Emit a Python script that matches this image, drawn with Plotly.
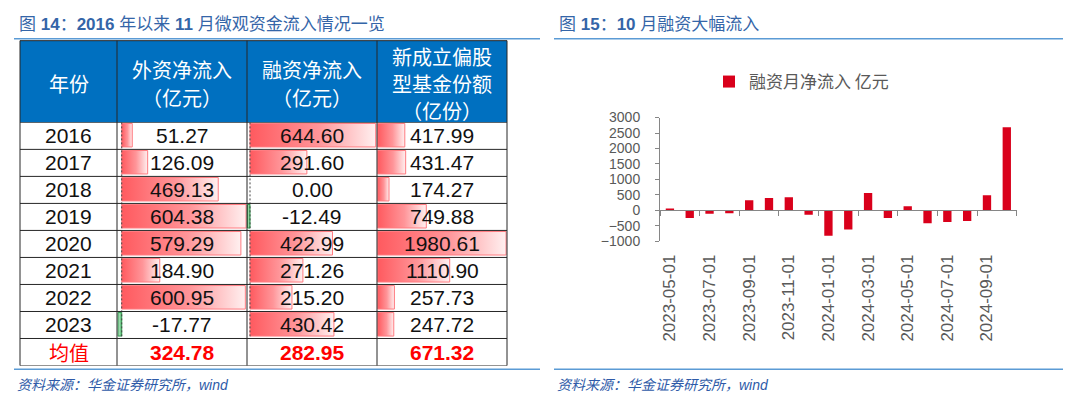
import plotly.graph_objects as go

# ---------------- data ----------------
years = ["2016", "2017", "2018", "2019", "2020", "2021", "2022", "2023"]
foreign_inflow = [51.27, 126.09, 469.13, 604.38, 579.29, 184.90, 600.95, -17.77]
margin_inflow = [644.60, 291.60, 0.00, -12.49, 422.99, 271.26, 215.20, 430.42]
fund_shares = [417.99, 431.47, 174.27, 749.88, 1980.61, 1110.90, 257.73, 247.72]
mean_values = [324.78, 282.95, 671.32]
header_lines = [["年份"], ["外资净流入", "（亿元）"], ["融资净流入", "（亿元）"],
                ["新成立偏股", "型基金份额", "（亿份）"]]

months = ["2023-05-01", "2023-06-01", "2023-07-01", "2023-08-01", "2023-09-01", "2023-10-01",
          "2023-11-01", "2023-12-01", "2024-01-01", "2024-02-01", "2024-03-01", "2024-04-01",
          "2024-05-01", "2024-06-01", "2024-07-01", "2024-08-01", "2024-09-01", "2024-10-01"]
margin_monthly = [50, -250, -110, -95, 322, 395, 425, -145, -820, -623, 560, -250,
                  135, -415, -374, -343, 488, 2690]
y_ticks = [-1000, -500, 0, 500, 1000, 1500, 2000, 2500, 3000]

# ---------------- layout helpers (pixel -> paper) ----------------
W, H = 1080, 411
def X(px):
    return px / W
def Y(py):
    return 1 - py / H

NUM_FONT = "Liberation Sans, Arial, Noto Sans CJK SC"
CJK_FONT = "Noto Sans CJK SC, Liberation Sans"
TITLE_BLUE = "#3465A8"
LINE_BLUE = "#5B9BD5"
SRC_BLUE = "#2E5AA8"

fig = go.Figure()

# ---------------- table (left) ----------------
col_edges = [20, 117, 247, 377, 507]
table_top, header_bottom, table_bottom = 34, 119, 372
col_data = [foreign_inflow, margin_inflow, fund_shares]
col_axes = ["x2", "x3", "x4"]
col_ranges = [[-23, 609], [-15.4, 651.3], [-11, 1995]]

for ci, (vals, xa) in enumerate(zip(col_data, col_axes)):
    for r, v in enumerate(vals):
        if v == 0:
            continue
        y0, y1 = r - 0.46, r + 0.41
        if v > 0:
            grad = dict(type="horizontal",
                        colorscale=[[0, "#FF5A5F"], [0.55, "#FF9599"], [1, "#FFF0F0"]])
            lc = "#FF7B80"
        else:
            grad = dict(type="horizontal", colorscale=[[0, "#C9EBD2"], [1, "#4CB86A"]])
            lc = "#2E9A4C"
        fig.add_trace(go.Scatter(
            x=[0, v, v, 0, 0], y=[y0, y0, y1, y1, y0],
            xaxis=xa, yaxis="y2", mode="lines", fill="toself",
            fillgradient=grad, line=dict(color=lc, width=1),
            showlegend=False, hoverinfo="skip"))

# header fill
fig.add_shape(type="rect", xref="paper", yref="paper",
              x0=X(col_edges[0]), x1=X(col_edges[-1]), y0=Y(header_bottom), y1=Y(table_top),
              fillcolor="#0070C0", line=dict(width=0), layer="below")

# dashed axis lines of the data bars (at value 0)
for xa in ["x2", "x3"]:
    fig.add_shape(type="line", xref=xa, yref="y2", x0=0, x1=0, y0=-0.5, y1=7.5,
                  line=dict(color="#444444", width=1, dash="2px,2px"))

# grid lines
for i in range(10):
    rb = -0.5 + i
    fig.add_shape(type="line", xref="paper", yref="y2", x0=X(col_edges[0]), x1=X(col_edges[-1]),
                  y0=rb, y1=rb, line=dict(color="#262626", width=1))
fig.add_shape(type="line", xref="paper", yref="paper", x0=X(col_edges[0]), x1=X(col_edges[-1]),
              y0=Y(table_top), y1=Y(table_top), line=dict(color="#262626", width=1))
for ce in col_edges:
    fig.add_shape(type="line", xref="paper", yref="paper", x0=X(ce), x1=X(ce),
                  y0=Y(table_bottom), y1=Y(table_top), line=dict(color="#262626", width=1))

# header text (one annotation per line)
line_pitch = 28.5
header_mid = (table_top + header_bottom) / 2 + 2
for i, lines in enumerate(header_lines):
    n = len(lines)
    for k, lab in enumerate(lines):
        yy = header_mid + (k - (n - 1) / 2) * line_pitch
        fig.add_annotation(xref="paper", yref="paper",
                           x=X((col_edges[i] + col_edges[i + 1]) / 2), y=Y(yy),
                           text=lab, showarrow=False, xanchor="center", yanchor="middle",
                           font=dict(family=CJK_FONT, size=20, color="white"))

# body text
year_cx = X((col_edges[0] + col_edges[1]) / 2)
for r, yr in enumerate(years):
    fig.add_annotation(xref="paper", yref="y2", x=year_cx, y=r, text=yr, showarrow=False,
                       xanchor="center", yanchor="middle",
                       font=dict(family=NUM_FONT, size=21, color="#111111"))
for ci, (vals, xa) in enumerate(zip(col_data, col_axes)):
    for r, v in enumerate(vals):
        fig.add_annotation(xref=xa + " domain", yref="y2", x=0.5, y=r, text=f"{v:.2f}",
                           showarrow=False, xanchor="center", yanchor="middle",
                           font=dict(family=NUM_FONT, size=21, color="#111111"))
    fig.add_annotation(xref=xa + " domain", yref="y2", x=0.5, y=8, text=f"<b>{mean_values[ci]:.2f}</b>",
                       showarrow=False, xanchor="center", yanchor="middle",
                       font=dict(family=NUM_FONT, size=21, color="#FF0000"))
fig.add_annotation(xref="paper", yref="y2", x=year_cx, y=8, text="均值", showarrow=False,
                   xanchor="center", yanchor="middle",
                   font=dict(family=CJK_FONT, size=20, color="#FF0000"))

# ---------------- bar chart (right) ----------------
fig.add_trace(go.Bar(x=months, y=margin_monthly, name="融资月净流入 亿元",
                     marker=dict(color="#D9001B", line=dict(width=0)),
                     xaxis="x", yaxis="y", showlegend=True))
# zero-line axis carrier
fig.add_trace(go.Scatter(x=[None], y=[None], xaxis="x5", yaxis="y", showlegend=False,
                         hoverinfo="skip"))

ydom = [Y(242.7), Y(114)]
zero_pos = ydom[0] + (0 - y_ticks[0]) / (y_ticks[-1] - y_ticks[0]) * (ydom[1] - ydom[0])

# ---------------- titles / decorations ----------------
titles = [
    (17, "图 <b>14</b>：<b>2016</b> 年以来 <b>11</b> 月微观资金流入情况一览"),
    (557, "图 <b>15</b>：<b>10</b> 月融资大幅流入"),
]
for x0, t in titles:
    fig.add_annotation(xref="paper", yref="paper", x=X(x0), y=Y(17), text=t, showarrow=False,
                       xanchor="left", yanchor="middle",
                       font=dict(family="Liberation Sans, Noto Sans CJK SC", size=17, color=TITLE_BLUE))
for xa0, xa1 in [(14, 540), (554, 1063)]:
    for yy in [32, 376]:
        fig.add_shape(type="line", xref="paper", yref="paper", x0=X(xa0), x1=X(xa1),
                      y0=Y(yy), y1=Y(yy), line=dict(color=LINE_BLUE, width=1.5))
for x0 in [15, 555]:
    fig.add_annotation(xref="paper", yref="paper", x=X(x0), y=Y(392), text="<i>资料来源：华金证券研究所，wind</i>",
                       showarrow=False, xanchor="left", yanchor="middle",
                       font=dict(family="Liberation Sans, Noto Sans CJK SC", size=14, color=SRC_BLUE))

fig.update_layout(
    width=W, height=H, margin=dict(l=0, r=0, t=0, b=0),
    paper_bgcolor="white", plot_bgcolor="rgba(0,0,0,0)",
    bargap=0.58,
    showlegend=True,
    legend=dict(x=X(709), y=Y(77), xanchor="left", yanchor="middle", orientation="h",
                font=dict(family=CJK_FONT, size=17, color="#595959"), bgcolor="rgba(0,0,0,0)",
                itemwidth=30),
    xaxis=dict(domain=[X(660), X(1016.7)], type="category", categoryorder="array",
               categoryarray=months, range=[-0.5, len(months) - 0.5], tickvals=months[::2],
               ticks="", showline=False, showgrid=False, zeroline=False, tickangle=-90,
               tickfont=dict(family=NUM_FONT, size=17, color="#595959"),
               ticklabelstandoff=9, anchor="y"),
    yaxis=dict(domain=ydom, range=[y_ticks[0], y_ticks[-1]], tickvals=y_ticks,
               ticks="outside", ticklen=4, tickcolor="#868686", showline=True, linecolor="#868686",
               linewidth=1, showgrid=False, zeroline=False,
               tickfont=dict(family=NUM_FONT, size=14, color="#595959"),
               ticklabelstandoff=12, anchor="x"),
    xaxis5=dict(overlaying="x", anchor="free", position=zero_pos, type="linear",
                range=[-0.5, len(months) - 0.5],
                tickvals=[i - 0.5 for i in range(0, len(months) + 1, 2)],
                ticks="outside", ticklen=5, tickcolor="#868686", showline=True,
                linecolor="#868686", linewidth=1, showticklabels=False, showgrid=False,
                zeroline=False),
    xaxis2=dict(domain=[X(col_edges[1]), X(col_edges[2])], range=col_ranges[0], visible=False, anchor="y2"),
    xaxis3=dict(domain=[X(col_edges[2]), X(col_edges[3])], range=col_ranges[1], visible=False, anchor="y2"),
    xaxis4=dict(domain=[X(col_edges[3]), X(col_edges[4])], range=col_ranges[2], visible=False, anchor="y2"),
    yaxis2=dict(domain=[Y(table_bottom), Y(header_bottom)], range=[8.5, -0.5], visible=False, anchor="x2"),
)

page_fix = (
    "var gd=document.getElementById('{plot_id}');"
    "document.documentElement.style.margin='0';document.documentElement.style.padding='0';"
    "document.documentElement.style.overflow='hidden';"
    "document.body.style.margin='0';document.body.style.padding='0';"
    "document.body.style.overflow='hidden';"
    "gd.style.position='absolute';gd.style.top='0px';gd.style.left='0px';"
)
fig.write_html("out.html", config={"displayModeBar": False}, post_script=page_fix)
